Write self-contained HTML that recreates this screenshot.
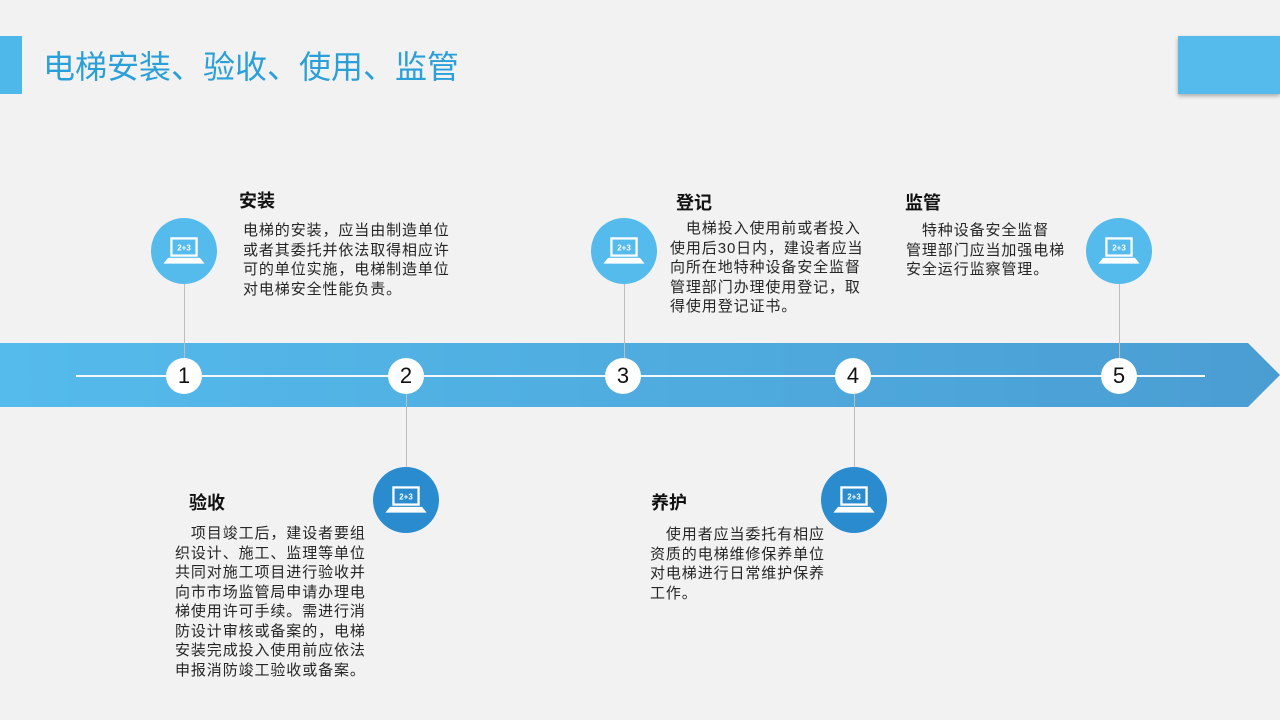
<!DOCTYPE html>
<html><head><meta charset="utf-8"><style>
*{margin:0;padding:0;box-sizing:border-box}
body{width:1280px;height:720px;background:#f2f2f2;position:relative;overflow:hidden;font-family:"Liberation Sans","Noto Sans CJK SC",sans-serif;color:#222}
.a{position:absolute}
.t{font-size:15px;line-height:19.5px;color:#262626;white-space:nowrap;letter-spacing:0.9px}
.h{font-size:18px;font-weight:bold;color:#111}
.ic{position:absolute;width:66px;height:66px;border-radius:50%;display:flex;align-items:center;justify-content:center}
.n{position:absolute;width:36px;height:36px;border-radius:50%;background:#fff;font-size:22px;text-align:center;line-height:36px;color:#111}
.v{position:absolute;width:1px;background:#bdbdbd}
</style></head><body>
<div class="a" style="left:0;top:36px;width:22px;height:58px;background:#4fb8ea"></div>
<div class="a" style="left:43px;top:47px;font-size:32px;line-height:40px;color:#2a9fd8;letter-spacing:0px">电梯安装、验收、使用、监管</div>
<div class="a" style="left:1178px;top:36px;width:102px;height:58px;background:#55bbec;box-shadow:0 2px 4px rgba(0,0,0,.3)"></div>

<svg class="a" style="left:0;top:343px" width="1280" height="64">
<defs><linearGradient id="g" x1="0" x2="1"><stop offset="0" stop-color="#55bbec"/><stop offset="1" stop-color="#4a9dd2"/></linearGradient></defs>
<polygon points="0,0 1248,0 1280,32 1248,64 0,64" fill="url(#g)"/>
<line x1="76" y1="33" x2="1205" y2="33" stroke="#f4f8fb" stroke-width="2"/>
</svg>

<div class="v" style="left:184px;top:284px;height:75px"></div>
<div class="v" style="left:624px;top:284px;height:75px"></div>
<div class="v" style="left:1119px;top:284px;height:75px"></div>
<div class="v" style="left:406px;top:393px;height:75px"></div>
<div class="v" style="left:854px;top:393px;height:75px"></div>

<div class="n" style="left:166px;top:358px">1</div>
<div class="n" style="left:388px;top:358px">2</div>
<div class="n" style="left:605px;top:358px">3</div>
<div class="n" style="left:835px;top:358px">4</div>
<div class="n" style="left:1101px;top:358px">5</div>

<svg width="0" height="0" style="position:absolute"><defs><g id="lp"><rect x="8" y="2" width="24" height="17" fill="#fff"/><rect x="10" y="4" width="20" height="13" fill="currentColor"/><text x="20" y="13.5" font-size="7" font-weight="bold" fill="#fff" text-anchor="middle" font-family="Liberation Sans">2+3</text><polygon points="6,20 34,20 38,25 2,25" fill="#fff"/></g></defs></svg>
<div class="ic" style="left:151px;top:218px;background:#55bbec;color:#55bbec"><svg width="46" height="32" viewBox="0 0 40 28"><use href="#lp"/></svg></div>
<div class="ic" style="left:591px;top:218px;background:#55bbec;color:#55bbec"><svg width="46" height="32" viewBox="0 0 40 28"><use href="#lp"/></svg></div>
<div class="ic" style="left:1086px;top:218px;background:#55bbec;color:#55bbec"><svg width="46" height="32" viewBox="0 0 40 28"><use href="#lp"/></svg></div>
<div class="ic" style="left:373px;top:467px;background:#2a8ccf;color:#2a8ccf"><svg width="46" height="32" viewBox="0 0 40 28"><use href="#lp"/></svg></div>
<div class="ic" style="left:821px;top:467px;background:#2a8ccf;color:#2a8ccf"><svg width="46" height="32" viewBox="0 0 40 28"><use href="#lp"/></svg></div>

<div class="a h" style="left:239px;top:187px">安装</div>
<div class="a t" style="left:243px;top:221px">电梯的安装，应当由制造单位<br>或者其委托并依法取得相应许<br>可的单位实施，电梯制造单位<br>对电梯安全性能负责。</div>

<div class="a h" style="left:676px;top:189px">登记</div>
<div class="a t" style="left:670px;top:219px">&emsp;电梯投入使用前或者投入<br>使用后30日内，建设者应当<br>向所在地特种设备安全监督<br>管理部门办理使用登记，取<br>得使用登记证书。</div>

<div class="a h" style="left:905px;top:189px">监管</div>
<div class="a t" style="left:906px;top:221px">&emsp;特种设备安全监督<br>管理部门应当加强电梯<br>安全运行监察管理。</div>

<div class="a h" style="left:189px;top:489px">验收</div>
<div class="a t" style="left:175px;top:524px">&emsp;项目竣工后，建设者要组<br>织设计、施工、监理等单位<br>共同对施工项目进行验收并<br>向市市场监管局申请办理电<br>梯使用许可手续。需进行消<br>防设计审核或备案的，电梯<br>安装完成投入使用前应依法<br>申报消防竣工验收或备案。</div>

<div class="a h" style="left:651px;top:489px">养护</div>
<div class="a t" style="left:650px;top:525px">&emsp;使用者应当委托有相应<br>资质的电梯维修保养单位<br>对电梯进行日常维护保养<br>工作。</div>
</body></html>
